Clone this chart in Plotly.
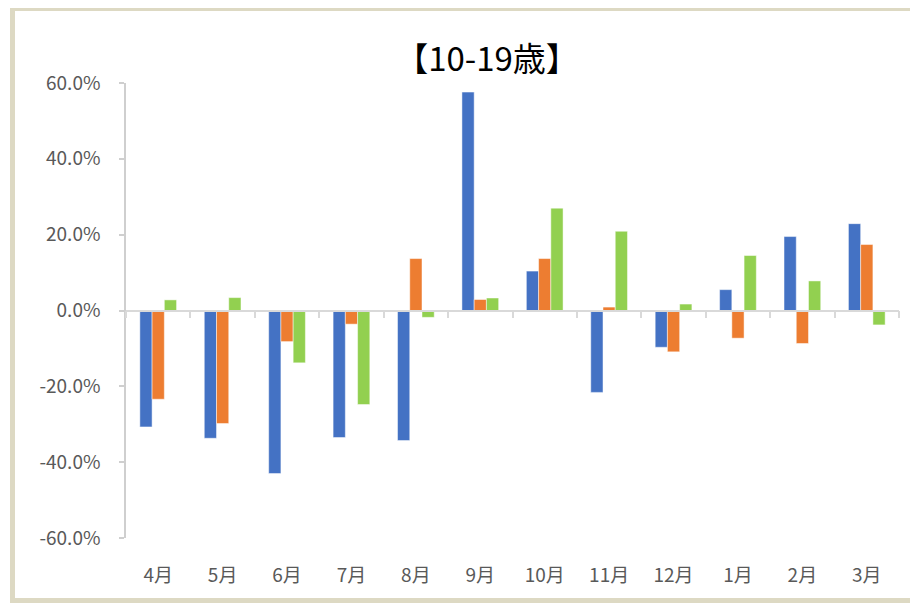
import plotly.graph_objects as go

months = ["4月", "5月", "6月", "7月", "8月", "9月", "10月", "11月", "12月", "1月", "2月", "3月"]
blue_vals = [-30.7, -33.7, -43.0, -33.5, -34.3, 57.6, 10.4, -21.6, -9.7, 5.5, 19.5, 22.9]
orange_vals = [-23.4, -29.8, -8.2, -3.6, 13.7, 2.9, 13.7, 0.9, -10.9, -7.3, -8.7, 17.4]
green_vals = [2.8, 3.4, -13.8, -24.8, -1.8, 3.3, 27.0, 20.9, 1.7, 14.5, 7.8, -3.8]
ytick_vals = [-60, -40, -20, 0, 20, 40, 60]
ytick_text = ["-60.0%", "-40.0%", "-20.0%", "0.0%", "20.0%", "40.0%", "60.0%"]

FONT = "Noto Sans CJK JP"
W, H = 918, 603
# page body has an 8px margin, so positions are shifted by 8
ML, MR, MT, MB = 118, 27, 75, 73
pw = W - ML - MR
ph = H - MT - MB

fig = go.Figure()
for vals, col in [(blue_vals, "#4472C4"), (orange_vals, "#ED7D31"), (green_vals, "#92D050")]:
    fig.add_trace(go.Bar(
        x=months, y=vals,
        marker=dict(color=col, line=dict(color="rgba(255,255,255,0.6)", width=0.8)),
    ))

fig.update_layout(
    width=W, height=H,
    margin=dict(l=ML, r=MR, t=MT, b=MB),
    paper_bgcolor="white", plot_bgcolor="white",
    showlegend=False,
    barmode="group", bargap=0.43, bargroupgap=0,
    title=dict(text="【10-19歳】", x=(479 - ML) / pw, xref="paper", xanchor="center",
               y=1 - 51 / H, yanchor="middle",
               font=dict(family=FONT, size=33, color="#000000")),
    xaxis=dict(type="category", range=[-0.5, 11.5], anchor="free", position=0.5,
               showgrid=False, zeroline=False, showline=True, linecolor="#d9d9d9", linewidth=1.5,
               ticks="outside", tickson="boundaries", ticklen=7, tickwidth=1.5, tickcolor="#d9d9d9",
               ticklabelstandoff=248,
               tickfont=dict(family=FONT, size=19, color="#595959")),
    yaxis=dict(range=[-60, 60], tickvals=ytick_vals, ticktext=ytick_text,
               showgrid=False, zeroline=False, showline=True, linecolor="#cfcfcf", linewidth=1.5,
               ticks="outside", ticklen=5, tickwidth=1.5, tickcolor="#cfcfcf",
               ticklabelstandoff=15,
               tickfont=dict(family=FONT, size=19, color="#595959")),
    shapes=[dict(type="rect", xref="paper", yref="paper",
                 x0=(4.5 - ML) / pw, x1=(925 - ML) / pw,
                 y0=(H - MB - 592.5) / ph, y1=(H - MB - 0.5) / ph,
                 line=dict(color="#DDD9C3", width=5), fillcolor="rgba(0,0,0,0)", layer="below")],
)

fig.write_html("out.html")
